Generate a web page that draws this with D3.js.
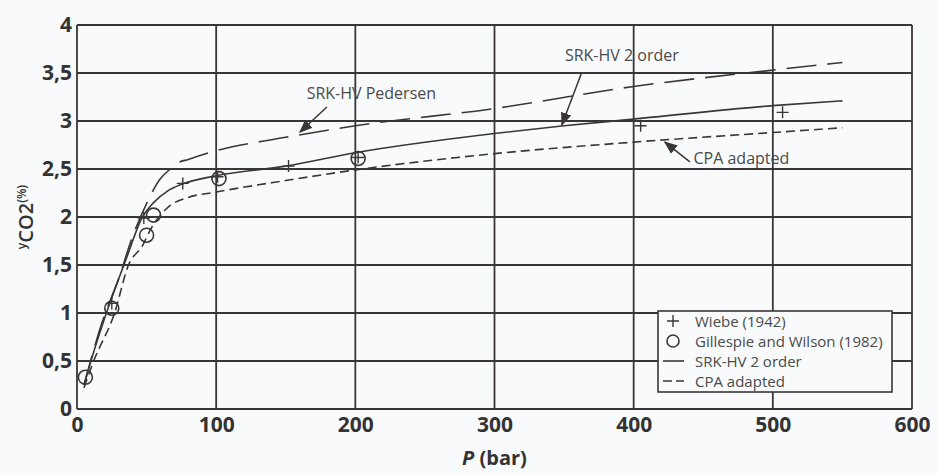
<!DOCTYPE html>
<html>
<head>
<meta charset="utf-8">
<script src="https://cdn.jsdelivr.net/npm/d3@7"></script>
<style>
  html, body { margin: 0; padding: 0; background: #f8fafc; }
  svg { display: block; font-family: "Open Sans", "Noto Sans", sans-serif; }
</style>
</head>
<body>
<div id="chart"></div>
<script>
// Ticks
const xTicks = [0, 100, 200, 300, 400, 500, 600];
const yTicks = [0, 0.5, 1, 1.5, 2, 2.5, 3, 3.5, 4];

// Experimental points
const wiebeP = [25, 48, 76, 101, 152, 202, 405, 507];
const wiebeY = [1.10, 1.99, 2.35, 2.42, 2.53, 2.62, 2.95, 3.09];
const gillespieP = [6, 25, 50, 55, 102, 202];
const gillespieY = [0.33, 1.05, 1.81, 2.02, 2.40, 2.61];

// Model curves [P, y]
const srkPedersen = [[5, 0.25], [18, 0.9], [30, 1.36], [40, 1.8], [50, 2.14], [60, 2.4], [67, 2.5], [72, 2.56],
    [80, 2.6], [100, 2.69], [150, 2.83], [200, 2.95], [300, 3.13], [400, 3.36], [500, 3.53], [550, 3.61]];
const srk2order = [[5, 0.25], [10, 0.5], [24, 1.12], [35, 1.55], [47, 2.0], [55, 2.15], [65, 2.27], [75, 2.34],
    [100, 2.43], [150, 2.53], [200, 2.67], [300, 2.87], [350, 2.95], [400, 3.02], [500, 3.16], [550, 3.21]];
const cpaAdapted = [[5, 0.22], [12, 0.5], [27, 1.0], [37, 1.5], [47, 1.7], [54, 1.9], [60, 2.02], [67, 2.12],
    [79, 2.2], [100, 2.26], [150, 2.38], [200, 2.49], [300, 2.66], [400, 2.78], [500, 2.88], [550, 2.93]];

const legendLabels = ['Wiebe (1942)', 'Gillespie and Wilson (1982)', 'SRK-HV 2 order', 'CPA adapted'];

const W = 938, H = 473;
const margin = { top: 25, right: 26, bottom: 64, left: 77 };
const width = W - margin.left - margin.right;
const height = H - margin.top - margin.bottom;
const ink = '#3b3636';
const textCol = '#333';

const svg = d3.select('#chart').append('svg')
    .attr('width', W).attr('height', H);

svg.append('defs').append('marker')
    .attr('id', 'arrow')
    .attr('viewBox', '0 0 10 10')
    .attr('refX', 9).attr('refY', 5)
    .attr('markerWidth', 9).attr('markerHeight', 9)
    .attr('orient', 'auto')
    .append('path')
    .attr('d', 'M0,1 L10,5 L0,9 Z')
    .attr('fill', ink);

const g = svg.append('g').attr('transform', `translate(${margin.left},${margin.top})`);

const x = d3.scaleLinear().domain([0, 600]).range([0, width]);
const y = d3.scaleLinear().domain([0, 4]).range([height, 0]);

// Grid
g.append('g').selectAll('line')
    .data(xTicks).enter().append('line')
    .attr('x1', d => x(d)).attr('x2', d => x(d))
    .attr('y1', 0).attr('y2', height)
    .attr('stroke', ink).attr('stroke-width', 1.8);
g.append('g').selectAll('line')
    .data(yTicks).enter().append('line')
    .attr('y1', d => y(d)).attr('y2', d => y(d))
    .attr('x1', 0).attr('x2', width)
    .attr('stroke', ink).attr('stroke-width', 1.8);

// Axes labels
const fmt = d => String(d).replace('.', ',');
const xAxis = g.append('g')
    .attr('transform', `translate(0,${height})`)
    .call(d3.axisBottom(x).tickValues(xTicks).tickSize(0).tickPadding(8).tickFormat(fmt));
xAxis.select('.domain').remove();
xAxis.selectAll('text')
    .style('font-size', '21px').style('font-weight', 'bold').style('fill', textCol)
    .style('font-family', '"Open Sans", sans-serif');

const yAxis = g.append('g')
    .call(d3.axisLeft(y).tickValues(yTicks).tickSize(0).tickPadding(5).tickFormat(fmt));
yAxis.select('.domain').remove();
yAxis.selectAll('text')
    .style('font-size', '21px').style('font-weight', 'bold').style('fill', textCol)
    .style('font-family', '"Open Sans", sans-serif');

// Axis titles
const xTitle = svg.append('text')
    .attr('x', margin.left + width / 2).attr('y', 465)
    .attr('text-anchor', 'middle')
    .style('font-size', '20px').style('font-weight', 'bold').style('fill', textCol);
xTitle.append('tspan').style('font-style', 'italic').text('P');
xTitle.append('tspan').text(' (bar)');

const yTitle = svg.append('text')
    .attr('transform', `translate(33,${margin.top + height / 2}) rotate(-90)`)
    .attr('text-anchor', 'middle')
    .style('font-size', '20px').style('font-weight', 600).style('fill', textCol);
yTitle.append('tspan').attr('dy', -7).style('font-size', '12px').text('y');
yTitle.append('tspan').attr('dy', 7).text('CO2');
yTitle.append('tspan').attr('dy', -7).style('font-size', '12px').text('(%)');

// Curves
const line = d3.line()
    .x(d => x(d[0]))
    .y(d => y(d[1]))
    .curve(d3.curveMonotoneX);

g.append('path').datum(srkPedersen)
    .attr('d', line).attr('fill', 'none')
    .attr('stroke', ink).attr('stroke-width', 1.6)
    .attr('stroke-dasharray', '30,11');
g.append('path').datum(srk2order)
    .attr('d', line).attr('fill', 'none')
    .attr('stroke', ink).attr('stroke-width', 1.6);
g.append('path').datum(cpaAdapted)
    .attr('d', line).attr('fill', 'none')
    .attr('stroke', ink).attr('stroke-width', 1.6)
    .attr('stroke-dasharray', '9,5');

// Points
const plus = (sel, cx, cy, s) => {
    sel.append('path')
        .attr('d', `M${cx - s},${cy}H${cx + s}M${cx},${cy - s}V${cy + s}`)
        .attr('stroke', ink).attr('stroke-width', 1.4).attr('fill', 'none');
};
wiebeP.forEach((p, i) => plus(g, x(p), y(wiebeY[i]), 6));

g.selectAll('.gw')
    .data(gillespieP)
    .enter().append('circle')
    .attr('class', 'gw')
    .attr('cx', d => x(d))
    .attr('cy', (d, i) => y(gillespieY[i]))
    .attr('r', 7)
    .attr('fill', 'none')
    .attr('stroke', ink).attr('stroke-width', 1.6);

// Annotations (positions in data units)
const px = p => margin.left + x(p);
const py = v => margin.top + y(v);
const annotate = (label, tp, tv, p1, v1, p2, v2) => {
    svg.append('text')
        .attr('x', px(tp)).attr('y', py(tv))
        .style('font-size', '16px').style('fill', '#4a4a4a')
        .text(label);
    svg.append('line')
        .attr('x1', px(p1)).attr('y1', py(v1)).attr('x2', px(p2)).attr('y2', py(v2))
        .attr('stroke', ink).attr('stroke-width', 1.5)
        .attr('marker-end', 'url(#arrow)');
};
annotate('SRK-HV Pedersen', 165, 3.23, 179.6, 3.146, 160.2, 2.885);
annotate('SRK-HV 2 order', 350.6, 3.625, 362.8, 3.51, 348.4, 2.958);
annotate('CPA adapted', 443, 2.552, 440.4, 2.575, 422.4, 2.78);

// Legend
const lg = svg.append('g');
lg.append('rect')
    .attr('x', 658).attr('y', 311).attr('width', 234).attr('height', 81)
    .attr('fill', '#f8fafc').attr('stroke', ink).attr('stroke-width', 1.6);
legendLabels.forEach((lab, i) => {
    const cy = 321 + i * 20;
    lg.append('text')
        .attr('x', 695).attr('y', cy + 5.5)
        .style('font-size', '15px').style('fill', '#4a4a4a')
        .text(lab);
    if (i === 0) plus(lg, 673, cy, 6);
    if (i === 1) lg.append('circle').attr('cx', 673).attr('cy', cy).attr('r', 6)
        .attr('fill', 'none').attr('stroke', ink).attr('stroke-width', 1.6);
    if (i === 2) lg.append('line').attr('x1', 663).attr('x2', 684).attr('y1', cy).attr('y2', cy)
        .attr('stroke', ink).attr('stroke-width', 1.6);
    if (i === 3) lg.append('line').attr('x1', 663).attr('x2', 684).attr('y1', cy).attr('y2', cy)
        .attr('stroke', ink).attr('stroke-width', 1.6).attr('stroke-dasharray', '9,4');
});
</script>
</body>
</html>
